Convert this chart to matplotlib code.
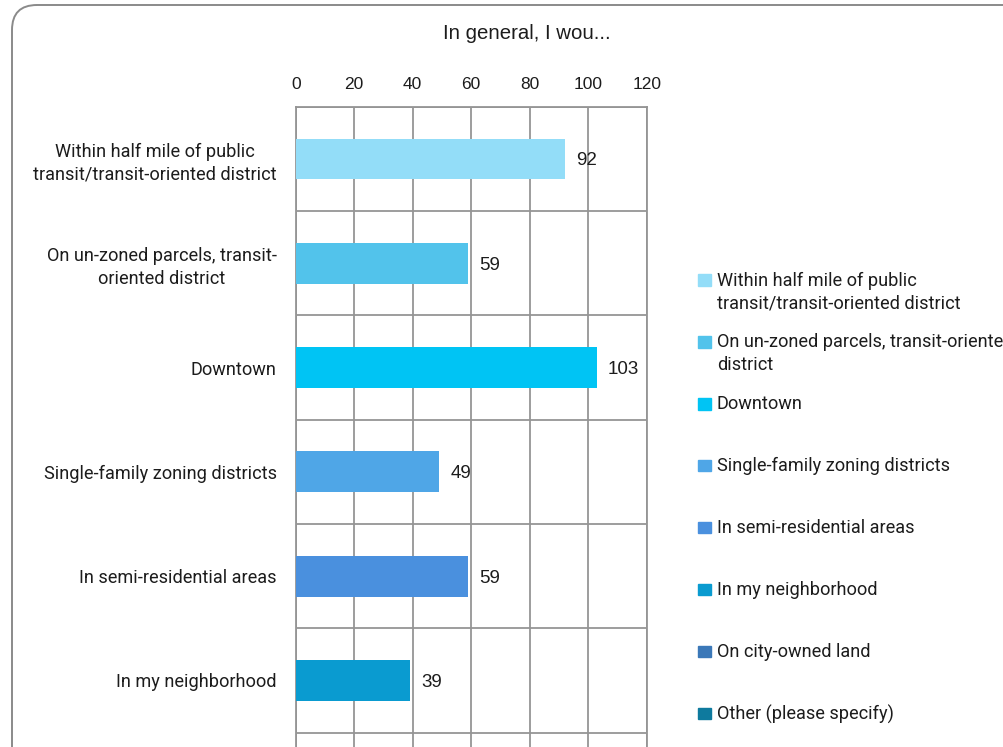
import matplotlib
matplotlib.use("Agg")
import matplotlib.pyplot as plt
import numpy as np
from matplotlib.patches import FancyBboxPatch, Rectangle
from matplotlib.transforms import IdentityTransform

# ── Data ──────────────────────────────────────────────────────────────────────

title = "In general, I wou..."
categories = [
    "Within half mile of public\ntransit/transit-oriented district",
    "On un-zoned parcels, transit-\noriented district",
    "Downtown",
    "Single-family zoning districts",
    "In semi-residential areas",
    "In my neighborhood",
    "On city-owned land",
    "Other (please specify)",
]
legend_labels = [
    "Within half mile of public\ntransit/transit-oriented district",
    "On un-zoned parcels, transit-oriented\ndistrict",
    "Downtown",
    "Single-family zoning districts",
    "In semi-residential areas",
    "In my neighborhood",
    "On city-owned land",
    "Other (please specify)",
]
values = [92, 59, 103, 49, 59, 39, 64, 21]   # last two fall below the visible crop
colors = ["#93DDF8", "#52C3EB", "#00C4F4", "#4FA6E7",
          "#4A90DE", "#0A9BD0", "#3B78B8", "#0E7A9E"]
x_ticks = [0, 20, 40, 60, 80, 100, 120]

# ── Layout (pixels) ───────────────────────────────────────────────────────────

W, H = 1004, 747
AX_L, AX_R = 295.7, 646.7
AX_T, AX_B = 106.7, 941.3          # axes runs off the bottom of the picture
GRID = "#959595"
TXT = "#1c1c1c"
ARIAL = "Liberation Sans"
APTOS = "Roboto"
CAT_FS = 13.1
LSP = 1.36

fig = plt.figure(figsize=(W / 100, H / 100), dpi=100)
ax = fig.add_axes([AX_L / W, 1 - AX_B / H, (AX_R - AX_L) / W, (AX_B - AX_T) / H])

y = np.arange(len(categories))
ax.barh(y, values, height=0.39, color=colors, zorder=3)
for yi, v in zip(y, values):
    ax.annotate(str(v), (v, yi), xytext=(8, -1.5), textcoords="offset points",
                ha="left", va="center", fontsize=13.5, family=ARIAL, color=TXT, zorder=4)

ax.set_xlim(0, 120)
ax.set_ylim(len(categories) - 0.5, -0.5)

ax.xaxis.tick_top()
ax.set_xticks(x_ticks)
ax.set_xticklabels([str(t) for t in x_ticks], fontsize=12.5, family=ARIAL, color=TXT)
ax.tick_params(axis="x", length=0, pad=10.3)

ax.set_yticks(y)
ax.set_yticklabels(categories, fontsize=CAT_FS, family=APTOS, color=TXT,
                   linespacing=LSP, multialignment="center")
ax.set_yticks(np.arange(len(categories) + 1) - 0.5, minor=True)
ax.tick_params(axis="y", which="both", length=0, pad=13.7)

ax.grid(axis="x", which="major", color=GRID, lw=1.3, zorder=0)
ax.grid(axis="y", which="minor", color=GRID, lw=1.3, zorder=0)
for s in ax.spines.values():
    s.set_color(GRID)
    s.set_linewidth(1.3)

fig.text(527 / W, 1 - 39.3 / H, title, ha="center", va="baseline",
         fontsize=14.7, family=ARIAL, color=TXT)

# ── Legend (drawn by hand so marker lines up with first text line) ────────────

for i, (lab, c) in enumerate(zip(legend_labels, colors)):
    yc = 280 + i * 61.9
    fig.add_artist(Rectangle((698.3, H - yc - 5.7), 12.4, 11.4,
                             transform=IdentityTransform(), color=c))
    fig.text(716.7 / W, (H - yc + 8.5) / H, lab, ha="left", va="top",
             fontsize=CAT_FS, family=APTOS, color=TXT, linespacing=LSP)

# ── Rounded chart border, cropped at right and bottom ─────────────────────────

fig.add_artist(FancyBboxPatch((12, -200), 1200, H - 5 + 200,
                              boxstyle="round,pad=0,rounding_size=25",
                              transform=IdentityTransform(),
                              fill=False, ec="#8a8a8a", lw=1.4))

# rows below the crop: hide their texts, as the cropped original does
fig.canvas.draw()
for t in ax.texts + ax.get_yticklabels():
    if t.get_window_extent().y1 < 2:
        t.set_visible(False)

fig.savefig("out.png", dpi=100)
